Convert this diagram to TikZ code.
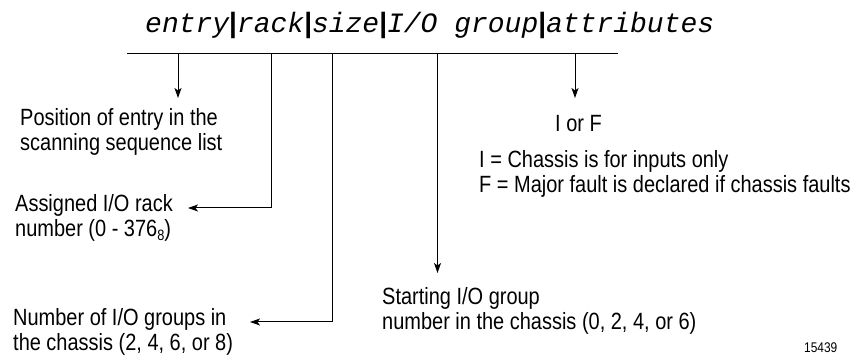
\documentclass[tikz,border=0pt]{standalone}
\usepackage{fontspec}
\setmainfont{Liberation Sans}[FakeStretch=0.85]
\newfontfamily\hdrfont{Liberation Mono}
\newfontfamily\pipefont{Liberation Sans}
\usetikzlibrary{arrows.meta}
\newcommand\hpipe{{\pipefont\bfseries\upshape|}}
\newcommand\lowsub[1]{\raisebox{-0.3ex}{\fontsize{15}{15}\selectfont #1}}
\begin{document}
\begin{tikzpicture}[x=1pt,y=-1pt,
  lbl/.style={anchor=base west,align=left,inner sep=0pt,font=\fontsize{23.5}{25}\selectfont},
  wire/.style={line width=1pt,line cap=rect},
  arr/.style={wire,-{Stealth[length=10pt,width=7pt,inset=2.5pt]}}]
\useasboundingbox (0,0) rectangle (860,355);
% header
\node[anchor=base west,inner sep=0pt,font=\hdrfont\itshape\fontsize{28}{28}\selectfont]
  (hdr) at (145,33) {entry\hpipe rack\hpipe size\hpipe I/O group\hpipe attributes};
% bus line
\coordinate (bL) at (127,54);
\coordinate (bR) at (617,54);
\draw[wire] (bL) -- (bR);
\coordinate (tE) at (178,54);
\coordinate (tR) at (271,54);
\coordinate (tS) at (332,54);
\coordinate (tG) at (437.5,54);
\coordinate (tA) at (575,54);
% labels (anchor = baseline of last line)
\node[lbl] (pos) at (20,151) {Position of entry in the\\scanning sequence list};
\node[lbl] (asg) at (15,237) {Assigned I/O rack\\number (0 - 376\lowsub{8})};
\node[lbl] (num) at (13,351) {Number of I/O groups in\\the chassis (2, 4, 6, or 8)};
\node[lbl] (sta) at (382,330) {Starting I/O group\\number in the chassis (0, 2, 4, or 6)};
\node[lbl] (iof) at (555,132) {I or F};
\node[lbl] (def) at (479,193) {I = Chassis is for inputs only\\F = Major fault is declared if chassis faults};
\node[anchor=base west,inner sep=0pt,font=\fontsize{14}{14}\selectfont] (fig) at (804,353) {15439};
% arrow end points
\coordinate (aE) at (178,98);
\coordinate (cR) at (271,208);
\coordinate (aR) at (188,208);
\coordinate (cS) at (332,322);
\coordinate (aS) at (250,322);
\coordinate (aG) at (437.5,273);
\coordinate (aA) at (575,98);
% connectors
\draw[arr] (tE) -- (aE);
\draw[arr] (tR) -- (cR) -- (aR);
\draw[arr] (tS) -- (cS) -- (aS);
\draw[arr] (tG) -- (aG);
\draw[arr] (tA) -- (aA);
\end{tikzpicture}
\end{document}
